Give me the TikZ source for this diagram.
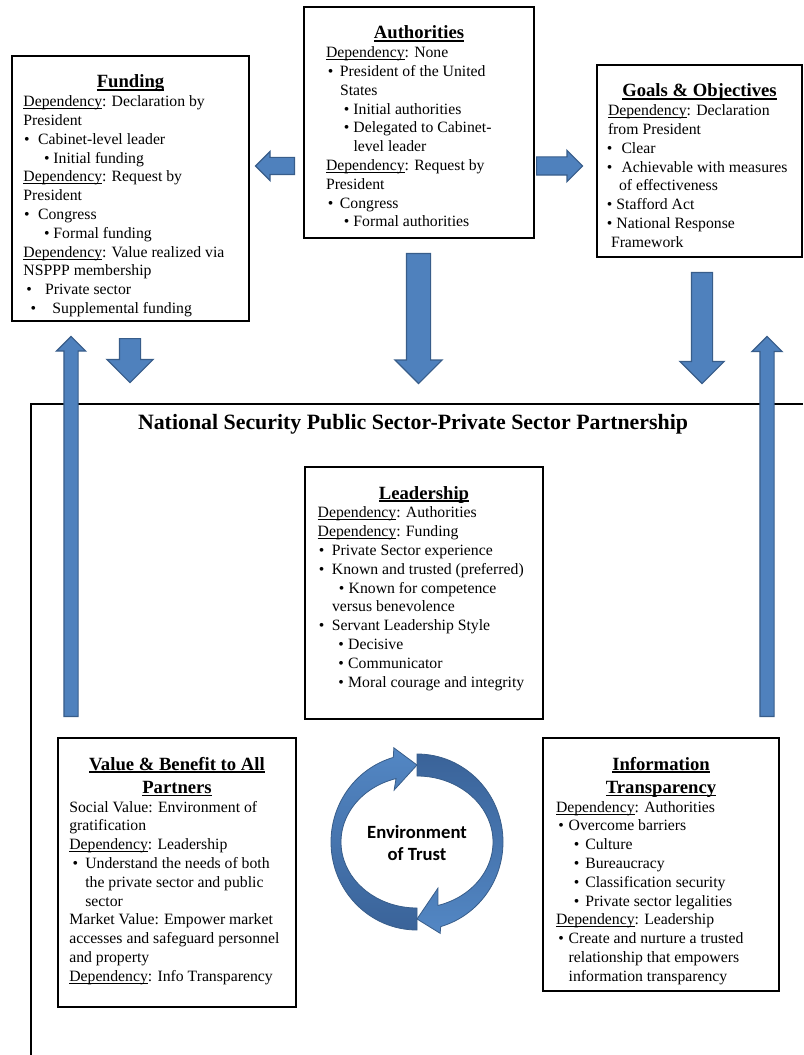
\documentclass[tikz,border=0pt]{standalone}
\usepackage{fontspec}
\setmainfont{Liberation Serif}
\newfontfamily\calibri{Carlito}
\usetikzlibrary{shapes.arrows}

\definecolor{arrowblue}{HTML}{4F81BD}
\definecolor{arrowedge}{HTML}{385D8A}
\definecolor{cyclelight}{HTML}{5387C4}
\definecolor{cycledark}{HTML}{3A6399}

% one pixel of the layout
\newlength{\pxu}\setlength{\pxu}{0.75pt}
\newcommand{\titlefont}{\fontsize{14}{17.5}\selectfont\bfseries}
\newcommand{\bodyfont}{\fontsize{11.8}{14.1}\selectfont}
% word-style underlines (body and titles)
\newcommand{\wul}[1]{\leavevmode\setbox0=\hbox{#1}\rlap{\rule[-1.6pt]{\wd0}{0.5pt}}\box0}
\newcommand{\twul}[1]{\leavevmode\setbox0=\hbox{#1}\rlap{\rule[-2pt]{\wd0}{0.9pt}}\box0}
\newcommand{\dep}{\wul{Dependency}}
% bullet centred at #1, text starting at #2 (pixels from text margin)
\newcommand{\bul}[2]{\hspace*{\dimexpr#1\pxu-2.75\pxu\relax}\makebox[\dimexpr#2\pxu-#1\pxu+2.75\pxu\relax][l]{\textbullet}}
\newcommand{\indpx}[1]{\hspace*{#1\pxu}}
% width, height, text margin, title, body
\newcommand{\panelbox}[5]{%
  \parbox[c][#2\pxu][t]{#1\pxu}{%
    {\titlefont\centering\rule{0pt}{24pt}#4\par}%
    {\bodyfont\raggedright\leftskip=#3\pxu\relax#5\par}}}

\begin{document}
\begin{tikzpicture}[
        x=0.75pt, y=0.75pt,
        % Define styles
        panel/.style={draw, line width=1.5pt, inner sep=0pt, anchor=north west},
        blockarrow/.style={single arrow, draw=arrowedge, fill=arrowblue, line width=0.9pt,
            inner xsep=0pt, minimum width=0pt, single arrow tip angle=90, anchor=tail},
        arrowsize/.style n args={3}{inner ysep=#1*0.75pt, single arrow head extend=#2*0.75pt,
            minimum height=#3*0.75pt},
        cyclearrow/.style={draw=arrowedge, line width=0.6pt},
        frameline/.style={line width=1.5pt}
    ]
    \useasboundingbox (0,0) rectangle (803,-1055);

    % --- Partnership frame ---
    \draw[frameline] (31,-1055) -- (31,-404) -- (803,-404);
    \node[font=\fontsize{16.4}{20}\selectfont\bfseries, anchor=base] (nsppp) at (413,-429)
        {National Security Public Sector-Private Sector Partnership};

    % --- Top row ---
    \node[panel] (funding) at (11,-55) {\panelbox{237}{265}{11.5}{\twul{Funding}}{%
        \dep: Declaration by\\
        President\\
        \bul{3.5}{14.6}Cabinet-level leader\\
        \bul{23.5}{30}Initial funding\\
        \dep: Request by\\
        President\\
        \bul{3.5}{14.6}Congress\\
        \bul{23.5}{30}Formal funding\\
        \dep: Value realized via\\
        NSPPP membership\\
        \bul{5.6}{21.6}Private sector\\
        \bul{10}{29}Supplemental funding}};

    \node[panel] (authorities) at (303,-6) {\panelbox{230}{231}{22}{\twul{Authorities}}{%
        \dep: None\\
        \bul{4.5}{14}President of the United\\
        \indpx{14}States\\
        \bul{20.7}{27.5}Initial authorities\\
        \bul{20.7}{27.5}Delegated to Cabinet-\\
        \indpx{27.5}level leader\\
        \dep: Request by\\
        President\\
        \bul{4.5}{14}Congress\\
        \bul{20.7}{27.5}Formal authorities}};

    \node[panel] (goals) at (596,-64) {\panelbox{205}{192}{11}{\twul{Goals \& Objectives}}{%
        \dep: Declaration\\
        from President\\
        \bul{1.5}{13.5}Clear\\
        \bul{1.5}{13.5}Achievable with measures\\
        \indpx{11}of effectiveness\\
        \bul{1.5}{8.5}Stafford Act\\
        \bul{1.5}{8.5}National Response\\
        \indpx{3}Framework}};

    % --- Inside the partnership ---
    \node[panel] (leadership) at (304,-466) {\panelbox{238}{252}{12.7}{\twul{Leadership}}{%
        \dep: Authorities\\
        \dep: Funding\\
        \bul{4}{14.3}Private Sector experience\\
        \bul{4}{14.3}Known and trusted (preferred)\\
        \bul{24}{31}Known for competence\\
        \indpx{14.3}versus benevolence\\
        \bul{4}{14.3}Servant Leadership Style\\
        \bul{23.3}{30.5}Decisive\\
        \bul{23.3}{30.5}Communicator\\
        \bul{23.3}{30.5}Moral courage and integrity}};

    \node[panel] (value) at (57,-737) {\panelbox{238}{269}{11.3}%
        {\twul{Value \& Benefit to All}\\\twul{Partners}}{%
        Social Value: Environment of\\
        gratification\\
        \dep: Leadership\\
        \bul{6}{16}Understand the needs of both\\
        \indpx{16}the private sector and public\\
        \indpx{16}sector\\
        Market Value: Empower market\\
        accesses and safeguard personnel\\
        and property\\
        \dep: Info Transparency}};

    \node[panel] (info) at (542,-737) {\panelbox{236}{253}{13}%
        {\twul{Information}\\\twul{Transparency}}{%
        \dep: Authorities\\
        \bul{5}{12.7}Overcome barriers\\
        \bul{20.7}{29.3}Culture\\
        \bul{20.7}{29.3}Bureaucracy\\
        \bul{20.7}{29.3}Classification security\\
        \bul{20.7}{29.3}Private sector legalities\\
        \dep: Leadership\\
        \bul{5}{12.7}Create and nurture a trusted\\
        \indpx{12.7}relationship that empowers\\
        \indpx{12.7}information transparency}};

    % --- Block arrows ---
    \node[blockarrow, arrowsize={8}{6}{39}, rotate=180] (authtofunding) at (295,-166) {};
    \node[blockarrow, arrowsize={8.5}{6.5}{46}] (authtogoals) at (536,-166) {};
    \node[blockarrow, arrowsize={10}{12.5}{44}, rotate=-90] (fundingdown) at (130,-338) {};
    \node[blockarrow, arrowsize={11.5}{11.5}{130}, rotate=-90] (authdown) at (418.5,-253) {};
    \node[blockarrow, arrowsize={10}{11.5}{111}, rotate=-90] (goalsdown) at (702,-272) {};
    \node[blockarrow, arrowsize={6.5}{7.5}{380}, rotate=90] (valueup) at (71,-717) {};
    \node[blockarrow, arrowsize={6.5}{8}{380}, rotate=90] (infoup) at (767,-717) {};

    % --- Environment of trust ---
    \begin{scope}[shift={(417,-842)}]
        \shadedraw[cyclearrow, top color=cyclelight, bottom color=cycledark]
            (270:86 and 88) arc[start angle=270, end angle=106, x radius=86, y radius=88]
            -- (106:84 and 98) -- (90:81 and 77) -- (106:83 and 54) -- (106:76 and 66)
            arc[start angle=106, end angle=270, x radius=76, y radius=66] -- cycle;
        \shadedraw[cyclearrow, top color=cycledark, bottom color=cyclelight]
            (90:86 and 88) arc[start angle=90, end angle=-74, x radius=86, y radius=88]
            -- (-74:84 and 95) -- (-90:81 and 77) -- (-74:76 and 48) -- (-74:76 and 66)
            arc[start angle=-74, end angle=90, x radius=76, y radius=66] -- cycle;
    \end{scope}
    \node[font=\calibri\fontsize{14}{16.7}\selectfont\bfseries, align=center] (trust) at (417,-843)
        {Environment\\of Trust};

\end{tikzpicture}
\end{document}
